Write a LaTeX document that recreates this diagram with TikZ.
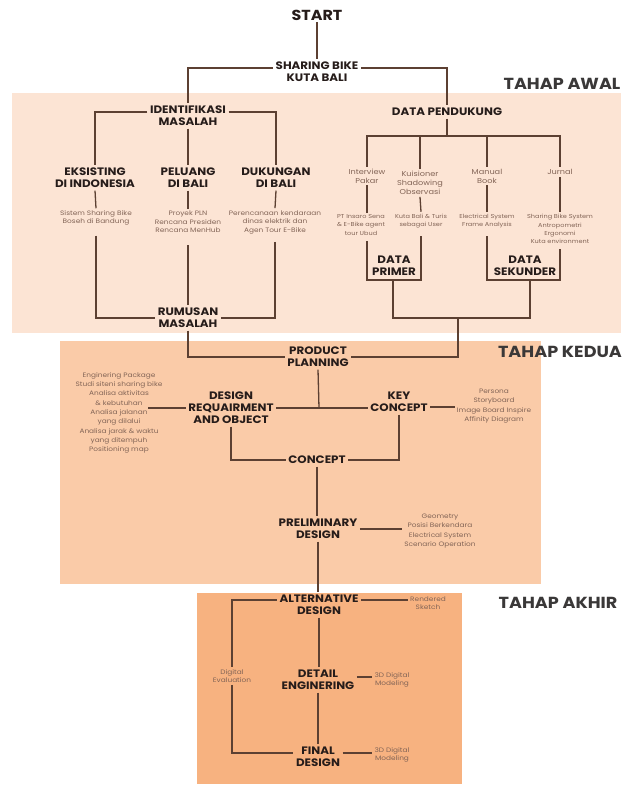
\documentclass[tikz,border=0pt]{standalone}
\usepackage{fontspec}
\setmainfont{Poppins}
\newfontfamily\hfont[FakeStretch=1.1]{Poppins}
\newfontfamily\sfont[FakeStretch=1.15]{Poppins}
\definecolor{bgA}{RGB}{252,228,212}
\definecolor{bgB}{RGB}{250,203,168}
\definecolor{bgC}{RGB}{247,178,128}
\definecolor{lnc}{RGB}{92,64,50}
\definecolor{hdc}{RGB}{38,28,26}
\definecolor{smc}{RGB}{130,100,86}
\definecolor{tpc}{RGB}{58,56,56}
\begin{document}
\begin{tikzpicture}[x=1pt,y=-1pt,
  head/.style={font=\hfont\bfseries\fontsize{10.8}{12}\selectfont, text=hdc, align=center, inner sep=2.5pt},
  big/.style={font=\hfont\bfseries\fontsize{14.5}{16}\selectfont, text=hdc, inner sep=2pt},
  small/.style={font=\sfont\fontsize{6.4}{8.5}\selectfont, text=smc, align=center, inner sep=2pt},
  smallk/.style={font=\sfont\fontsize{6.4}{9.3}\selectfont, text=smc, align=center, inner sep=2pt},
  smallr/.style={font=\sfont\fontsize{5.7}{8.2}\selectfont, text=smc, align=center, inner sep=2pt},
  mid/.style={font=\sfont\fontsize{7.1}{9}\selectfont, text=smc, align=center, inner sep=2pt},
  tahapt/.style={font=\hfont\bfseries\fontsize{16}{18}\selectfont, text=tpc, inner sep=0pt},
  conn/.style={draw=lnc, line width=1.3pt}]
\useasboundingbox (0,0) rectangle (631,786);
\fill[white] (0,0) rectangle (631,786);
% backgrounds
\fill[bgA] (12,93) rectangle (621,333);
\fill[bgB] (60,341) rectangle (541,584);
\fill[bgC] (197,593) rectangle (462,784);
% stage labels
\node[tahapt] (ta) at (562,84) {TAHAP AWAL};
\node[tahapt] (tk) at (560,352) {TAHAP KEDUA};
\node[tahapt] (tak) at (558,603) {TAHAP AKHIR};
% top
\node[big] (start) at (317,15) {START};
\node[head] (sb) at (317,72) {SHARING BIKE\\KUTA BALI};
% left branch
\node[head] (idm) at (188,116) {IDENTIFIKASI\\MASALAH};
\node[head] (eks) at (95,178) {EKSISTING\\DI INDONESIA};
\node[head] (pel) at (188,178) {PELUANG\\DI BALI};
\node[head] (duk) at (276,178) {DUKUNGAN\\DI BALI};
\node[small] (s1) at (96,218) {Sistem Sharing Bike\\Boseh di Bandung};
\node[small] (s2) at (188,222) {Proyek PLN\\Rencana Presiden\\Rencana MenHub};
\node[small] (s3) at (275,222) {Perencanaan kendaraan\\dinas elektrik dan\\Agen Tour E-Bike};
\node[head] (rm) at (188,318) {RUMUSAN\\MASALAH};
% right branch
\node[head] (dp) at (447,112) {DATA PENDUKUNG};
\coordinate (dpj) at (447,136);
\node[mid] (iv) at (367,176) {Interview\\Pakar};
\node[mid] (ku) at (420,183) {Kuisioner\\Shadowing\\Observasi};
\node[mid] (mb) at (487,176) {Manual\\Book};
\node[mid] (jr) at (560,172) {Jurnal};
\node[smallr] (p1) at (361,225) {PT Insaro Sena\\\& E-Bike agent\\tour Ubud};
\node[smallr] (p2) at (421,221) {Kuta Bali \& Turis\\sebagai User};
\node[smallr] (p3) at (487,221) {Electrical System\\Frame Analysis};
\node[smallr] (p4) at (560,229) {Sharing Bike System\\Antropometri\\Ergonomi\\Kuta environment};
\node[head] (dpr) at (394,266) {DATA\\PRIMER};
\node[head] (dsk) at (525,266) {DATA\\SEKUNDER};
\coordinate (dprb) at (393,280);
\coordinate (dskb) at (530,280);
\coordinate (j1) at (393,318);
\coordinate (j2) at (458,318);
% tahap kedua
\node[head] (pp) at (318,357) {PRODUCT\\PLANNING};
\coordinate (j3) at (319,408);
\node[head] (dro) at (231,408) {DESIGN\\REQUAIRMENT\\AND OBJECT};
\node[head] (kc) at (399,402) {KEY\\CONCEPT};
\node[smallk] (lt) at (119,413) {Enginering Package\\Studi siteni sharing bike\\Analisa aktivitas\\\& kebutuhan\\Analisa jalanan\\yang dilalui\\Analisa jarak \& waktu\\yang ditempuh\\Positioning map};
\coordinate (ltc) at (148,408);
\node[smallk] (kr) at (494,406) {Persona\\Storyboard\\Image Board Inspire\\Affinity Diagram};
\node[head] (cc) at (317,460) {CONCEPT};
\node[head] (prd) at (318,529) {PRELIMINARY\\DESIGN};
\node[smallk] (pr) at (440,531) {Geometry\\Posisi Berkendara\\Electrical System\\Scenario Operation};
% tahap akhir
\node[head] (alt) at (319,605) {ALTERNATIVE\\DESIGN};
\node[small] (rs) at (428,603) {Rendered\\Sketch};
\node[small] (de) at (232,676) {Digital\\Evaluation};
\node[head] (det) at (318,680) {DETAIL\\ENGINERING};
\node[small] (m1) at (392,680) {3D Digital\\Modeling};
\node[head] (fd) at (318,757) {FINAL\\DESIGN};
\node[small] (m2) at (392,755) {3D Digital\\Modeling};
% connectors top
\draw[conn] (start) -- (sb);
\draw[conn] ([yshift=4pt]sb.west) -| (idm.north);
\draw[conn] ([yshift=4pt]sb.east) -| (dp.north);
% left branch connectors
\draw[conn] ([yshift=4pt]idm.west) -| (eks.north);
\draw[conn] ([yshift=4pt]idm.east) -| (duk.north);
\draw[conn] (idm.south) -- (pel.north);
\draw[conn] (eks.south) -- (s1.north);
\draw[conn] (pel.south) -- (s2.north);
\draw[conn] (duk.south) -- (s3.north);
\draw[conn] ([yshift=-8pt]s1.south) |- (rm.west);
\draw[conn] ([yshift=-10pt]s2.south) -- (rm.north);
\draw[conn] ([yshift=-6pt]s3.south) |- (rm.east);
\draw[conn] (rm.south) |- (pp.west);
% right branch connectors
\draw[conn] (dp.south) -- (dpj);
\draw[conn] (iv.north) |- (dpj) -| (jr.north);
\draw[conn] (ku.north) -- (ku.north |- dpj);
\draw[conn] (mb.north) -- (mb.north |- dpj);
\draw[conn] (iv.south) -- (iv.south |- p1.north);
\draw[conn] (ku.south) -- (p2.north);
\draw[conn] (mb.south) -- (p3.north);
\draw[conn] (jr.south) -- (p4.north);
\draw[conn] ([yshift=-4pt]iv.south |- p1.south) |- (dprb) -| ([yshift=-6pt]p2.south);
\draw[conn] ([yshift=-6pt]p3.south) |- (dskb) -| ([yshift=-3pt]p4.south);
\draw[conn] (dprb) -- (j1) -- (dskb |- j1) -- (dskb);
\draw[conn] (j2) |- (pp.east);
% tahap kedua connectors
\draw[conn] (pp.south) -- (j3);
\draw[conn] (dro.east) -- (dro.east -| kc.west);
\draw[conn] (ltc) -- (dro.west);
\draw[conn] ([yshift=-5pt]kc.east) -- ([yshift=-5pt]kc.east -| kr.west);
\draw[conn] (dro.south) |- (cc.west);
\draw[conn] (kc.south) |- (cc.east);
\draw[conn] (cc.south) -- (cc.south |- prd.north);
\draw[conn] (prd.east) -- (prd.east -| pr.west);
\draw[conn] (prd.south) -- (prd.south |- alt.north);
% tahap akhir connectors
\draw[conn] ([yshift=5pt]alt.west) -| (de.north);
\draw[conn] ([yshift=5pt]alt.east) -- ([yshift=5pt]alt.east -| rs.west);
\draw[conn] (de.south) |- ([yshift=4pt]fd.west);
\draw[conn] (alt.south) -- (alt.south |- det.north);
\draw[conn] ([yshift=3pt]det.east) -- ([yshift=3pt]det.east -| m1.west);
\draw[conn] (det.south) -- (fd.north);
\draw[conn] ([yshift=4pt]fd.east) -- ([yshift=4pt]fd.east -| m2.west);
\end{tikzpicture}
\end{document}
